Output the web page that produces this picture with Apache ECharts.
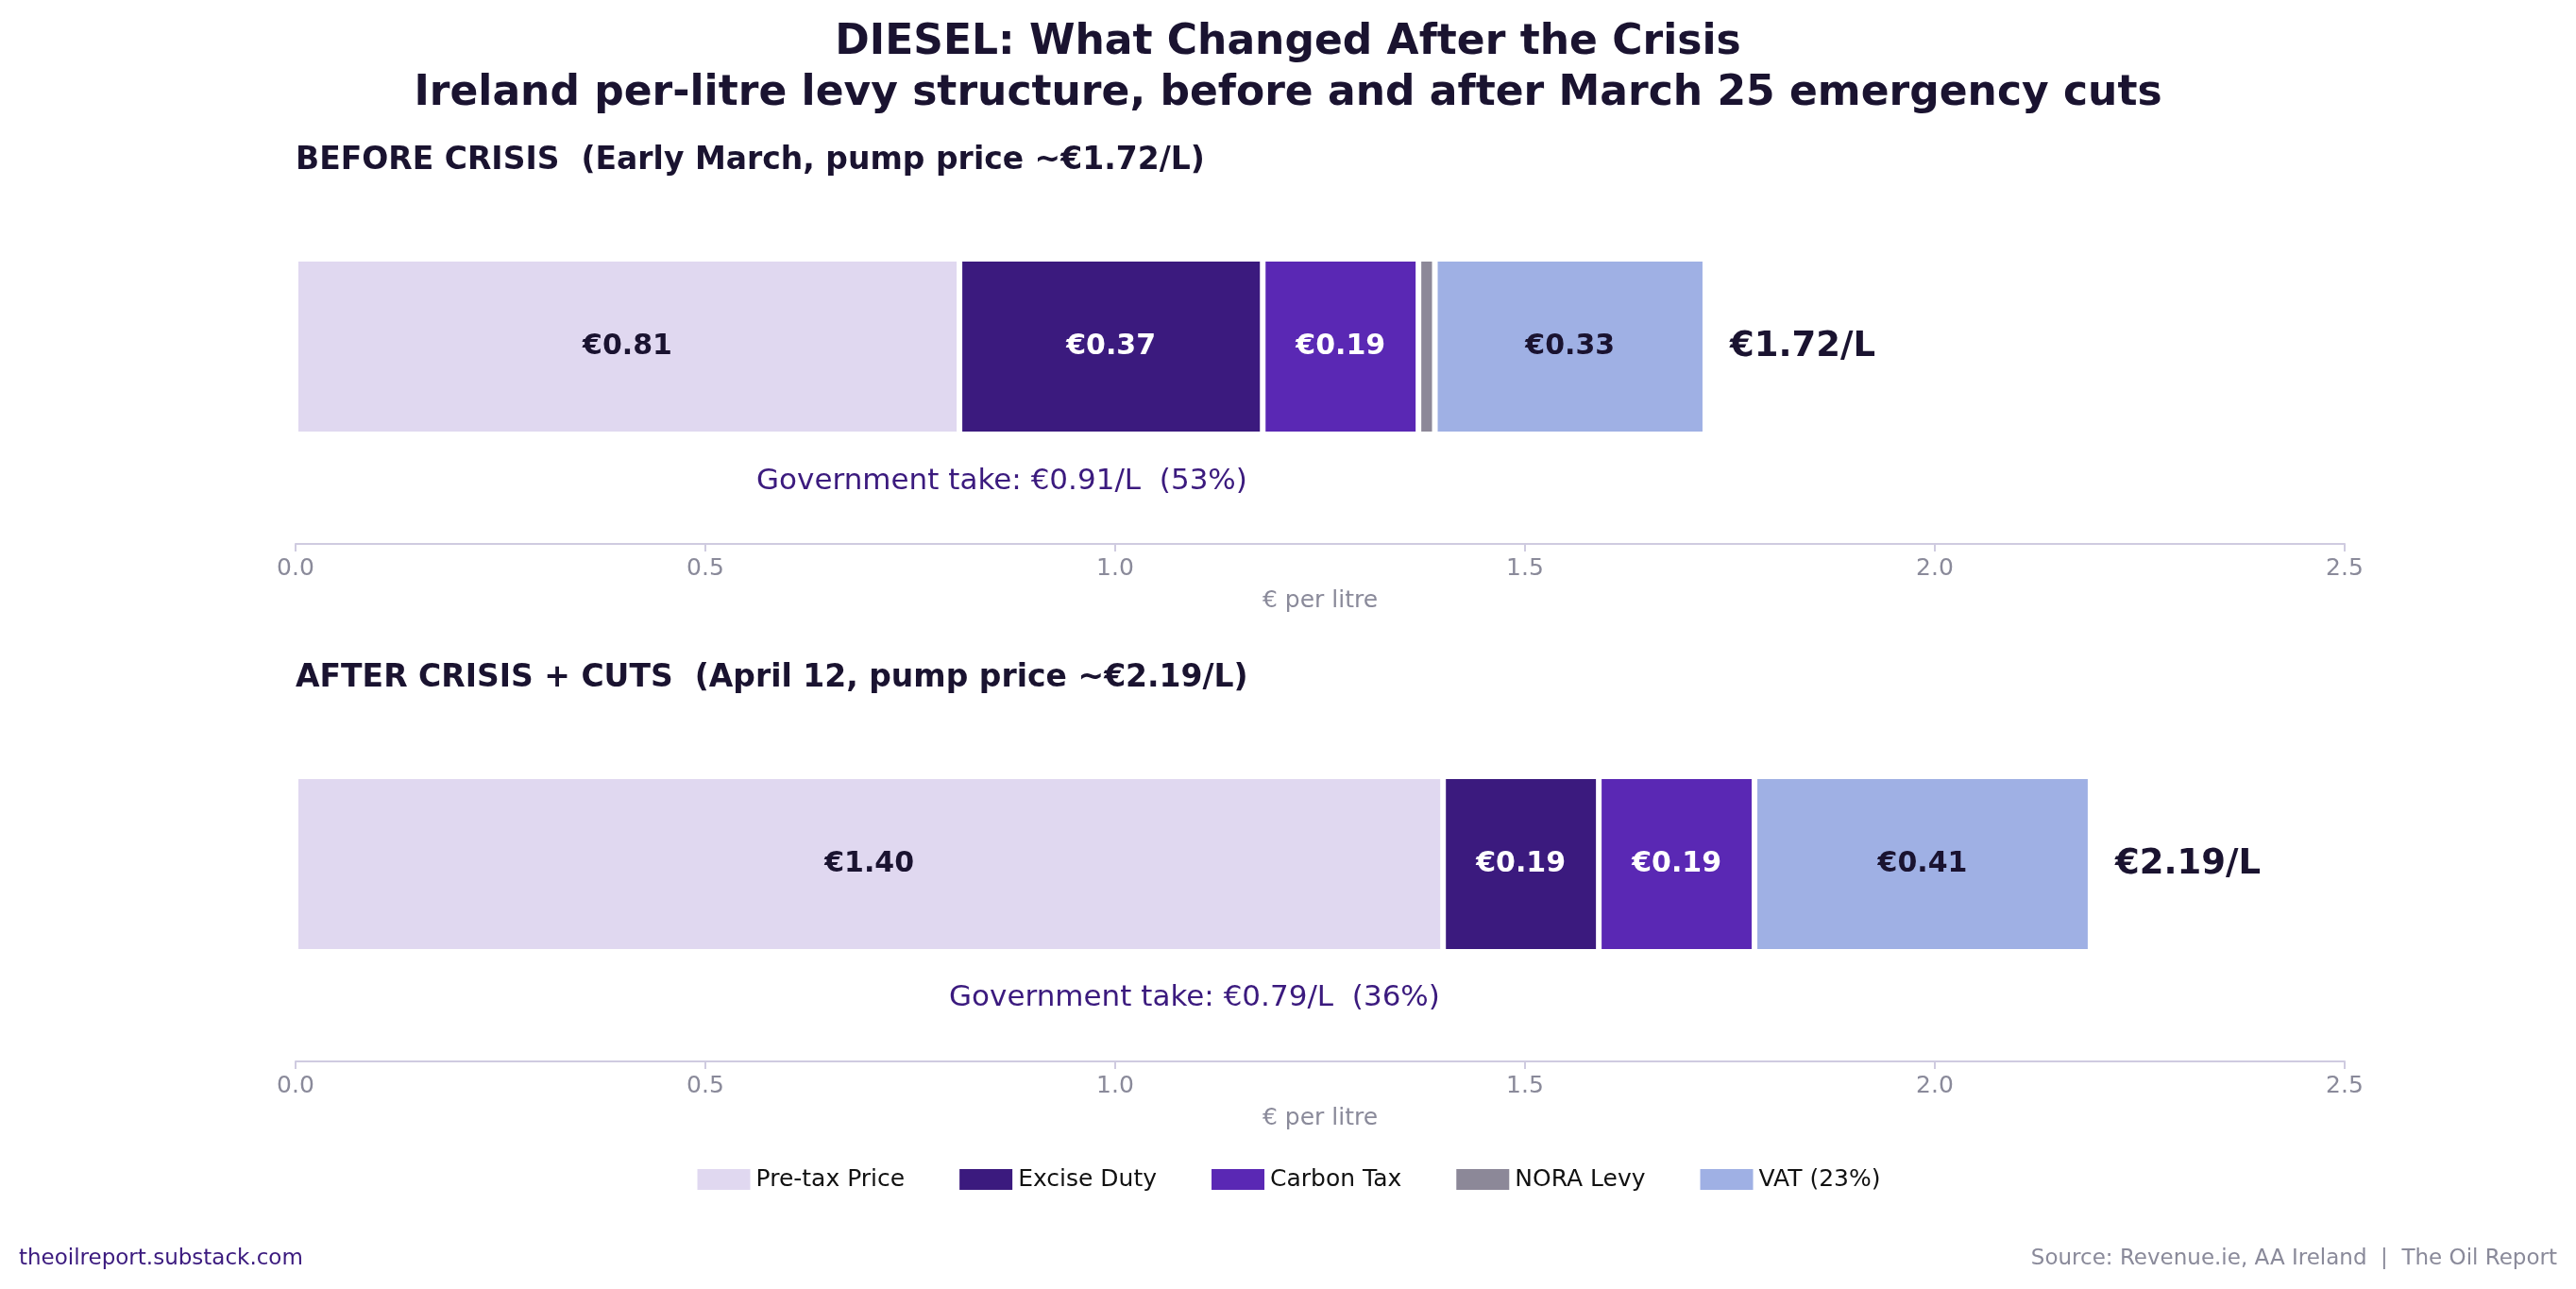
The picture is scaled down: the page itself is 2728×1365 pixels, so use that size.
<!DOCTYPE html>
<html><head><meta charset="utf-8">
<script src="https://cdn.jsdelivr.net/npm/echarts@6/dist/echarts.min.js"></script>
<style>html,body{margin:0;padding:0;background:#fff}#main{width:2728px;height:1365px}</style>
</head><body><div id="main"></div>
<script>
var names = ["Pre-tax Price", "Excise Duty", "Carbon Tax", "NORA Levy", "VAT (23%)"];
var colors = ["#e0d8f0", "#3b1a7e", "#5a28b4", "#8c8898", "#9fb0e4"];
var labelColors = ["#1a1330", "#ffffff", "#ffffff", "#ffffff", "#1a1330"];
var before = [0.81, 0.37, 0.19, 0.02, 0.33];
var after = [1.40, 0.19, 0.19, 0, 0.41];
var totals = [1.72, 2.19];
var ticks = [0, 0.5, 1.0, 1.5, 2.0, 2.5];

var font = "DejaVu Sans";
var chart = echarts.init(document.getElementById("main"));
var series = [];
[before, after].forEach(function (vals, g) {
  vals.forEach(function (v, i) {
    series.push({
      name: names[i], type: "bar", stack: "s" + g,
      xAxisIndex: g, yAxisIndex: g, barWidth: 186,
      data: [v === 0 ? null : v],
      itemStyle: { color: colors[i], borderColor: "#fff", borderWidth: 3 },
      label: {
        show: v >= 0.1, position: "inside", fontFamily: font, fontSize: 30, fontWeight: "bold",
        color: labelColors[i], formatter: function (p) { return "€" + p.value.toFixed(2); }
      }
    });
  });
  series.push({
    type: "bar", stack: "s" + g, xAxisIndex: g, yAxisIndex: g, barWidth: 186,
    data: [0], itemStyle: { color: "transparent" },
    label: { show: true, position: "right", distance: 26, fontFamily: font, fontSize: 37,
      fontWeight: "bold", color: "#1a1330", formatter: "€" + totals[g].toFixed(2) + "/L" }
  });
});

function xAx(g) {
  return {
    gridIndex: g, type: "value", min: 0, max: 2.5, interval: 0.5,
    name: "€ per litre", nameLocation: "middle", nameGap: 48,
    nameTextStyle: { fontFamily: font, fontSize: 25, color: "#8a8a9a" },
    axisLine: { show: true, lineStyle: { color: "#cfcbe0", width: 2 } },
    axisTick: { show: true, length: 8, lineStyle: { color: "#cfcbe0", width: 2 } },
    axisLabel: { fontFamily: font, fontSize: 25, color: "#8a8a9a", margin: 14,
      formatter: function (v) { return ticks.indexOf(v) >= 0 ? v.toFixed(1) : ""; } },
    splitLine: { show: false }
  };
}
function yAx(g) {
  return { gridIndex: g, type: "category", data: ["d"], show: false };
}

chart.setOption({
  animation: false,
  title: {
    text: "DIESEL: What Changed After the Crisis\nIreland per-litre levy structure, before and after March 25 emergency cuts",
    left: "center", top: 14,
    textStyle: { fontFamily: font, fontSize: 44, fontWeight: "bold", color: "#1a1330", lineHeight: 54 }
  },
  grid: [
    { left: 313, right: 245, top: 158, height: 418 },
    { left: 313, right: 245, top: 706, height: 418 }
  ],
  xAxis: [xAx(0), xAx(1)],
  yAxis: [yAx(0), yAx(1)],
  legend: {
    data: names, bottom: 98, left: "center", itemWidth: 58, itemHeight: 24, itemGap: 56,
    icon: "rect", textStyle: { fontFamily: font, fontSize: 25, color: "#111" }
  },
  graphic: [
    { type: "text", left: 313, top: 154, style: { text: "BEFORE CRISIS  (Early March, pump price ~€1.72/L)", font: "bold 33px DejaVu Sans", fill: "#1a1330" } },
    { type: "text", left: 313, top: 702, style: { text: "AFTER CRISIS + CUTS  (April 12, pump price ~€2.19/L)", font: "bold 33px DejaVu Sans", fill: "#1a1330" } },
    { type: "text", x: 1061, y: 510, style: { text: "Government take: €0.91/L  (53%)", font: "31px DejaVu Sans", fill: "#3b1a7e", align: "center", verticalAlign: "middle" } },
    { type: "text", x: 1265, y: 1057, style: { text: "Government take: €0.79/L  (36%)", font: "31px DejaVu Sans", fill: "#3b1a7e", align: "center", verticalAlign: "middle" } },
    { type: "text", x: 20, y: 1333, style: { text: "theoilreport.substack.com", font: "23px DejaVu Sans", fill: "#3b1a7e", verticalAlign: "middle" } },
    { type: "text", x: 2708, y: 1333, style: { text: "Source: Revenue.ie, AA Ireland  |  The Oil Report", font: "23px DejaVu Sans", fill: "#8a8a9a", align: "right", verticalAlign: "middle" } }
  ],
  series: series
});
</script></body></html>
